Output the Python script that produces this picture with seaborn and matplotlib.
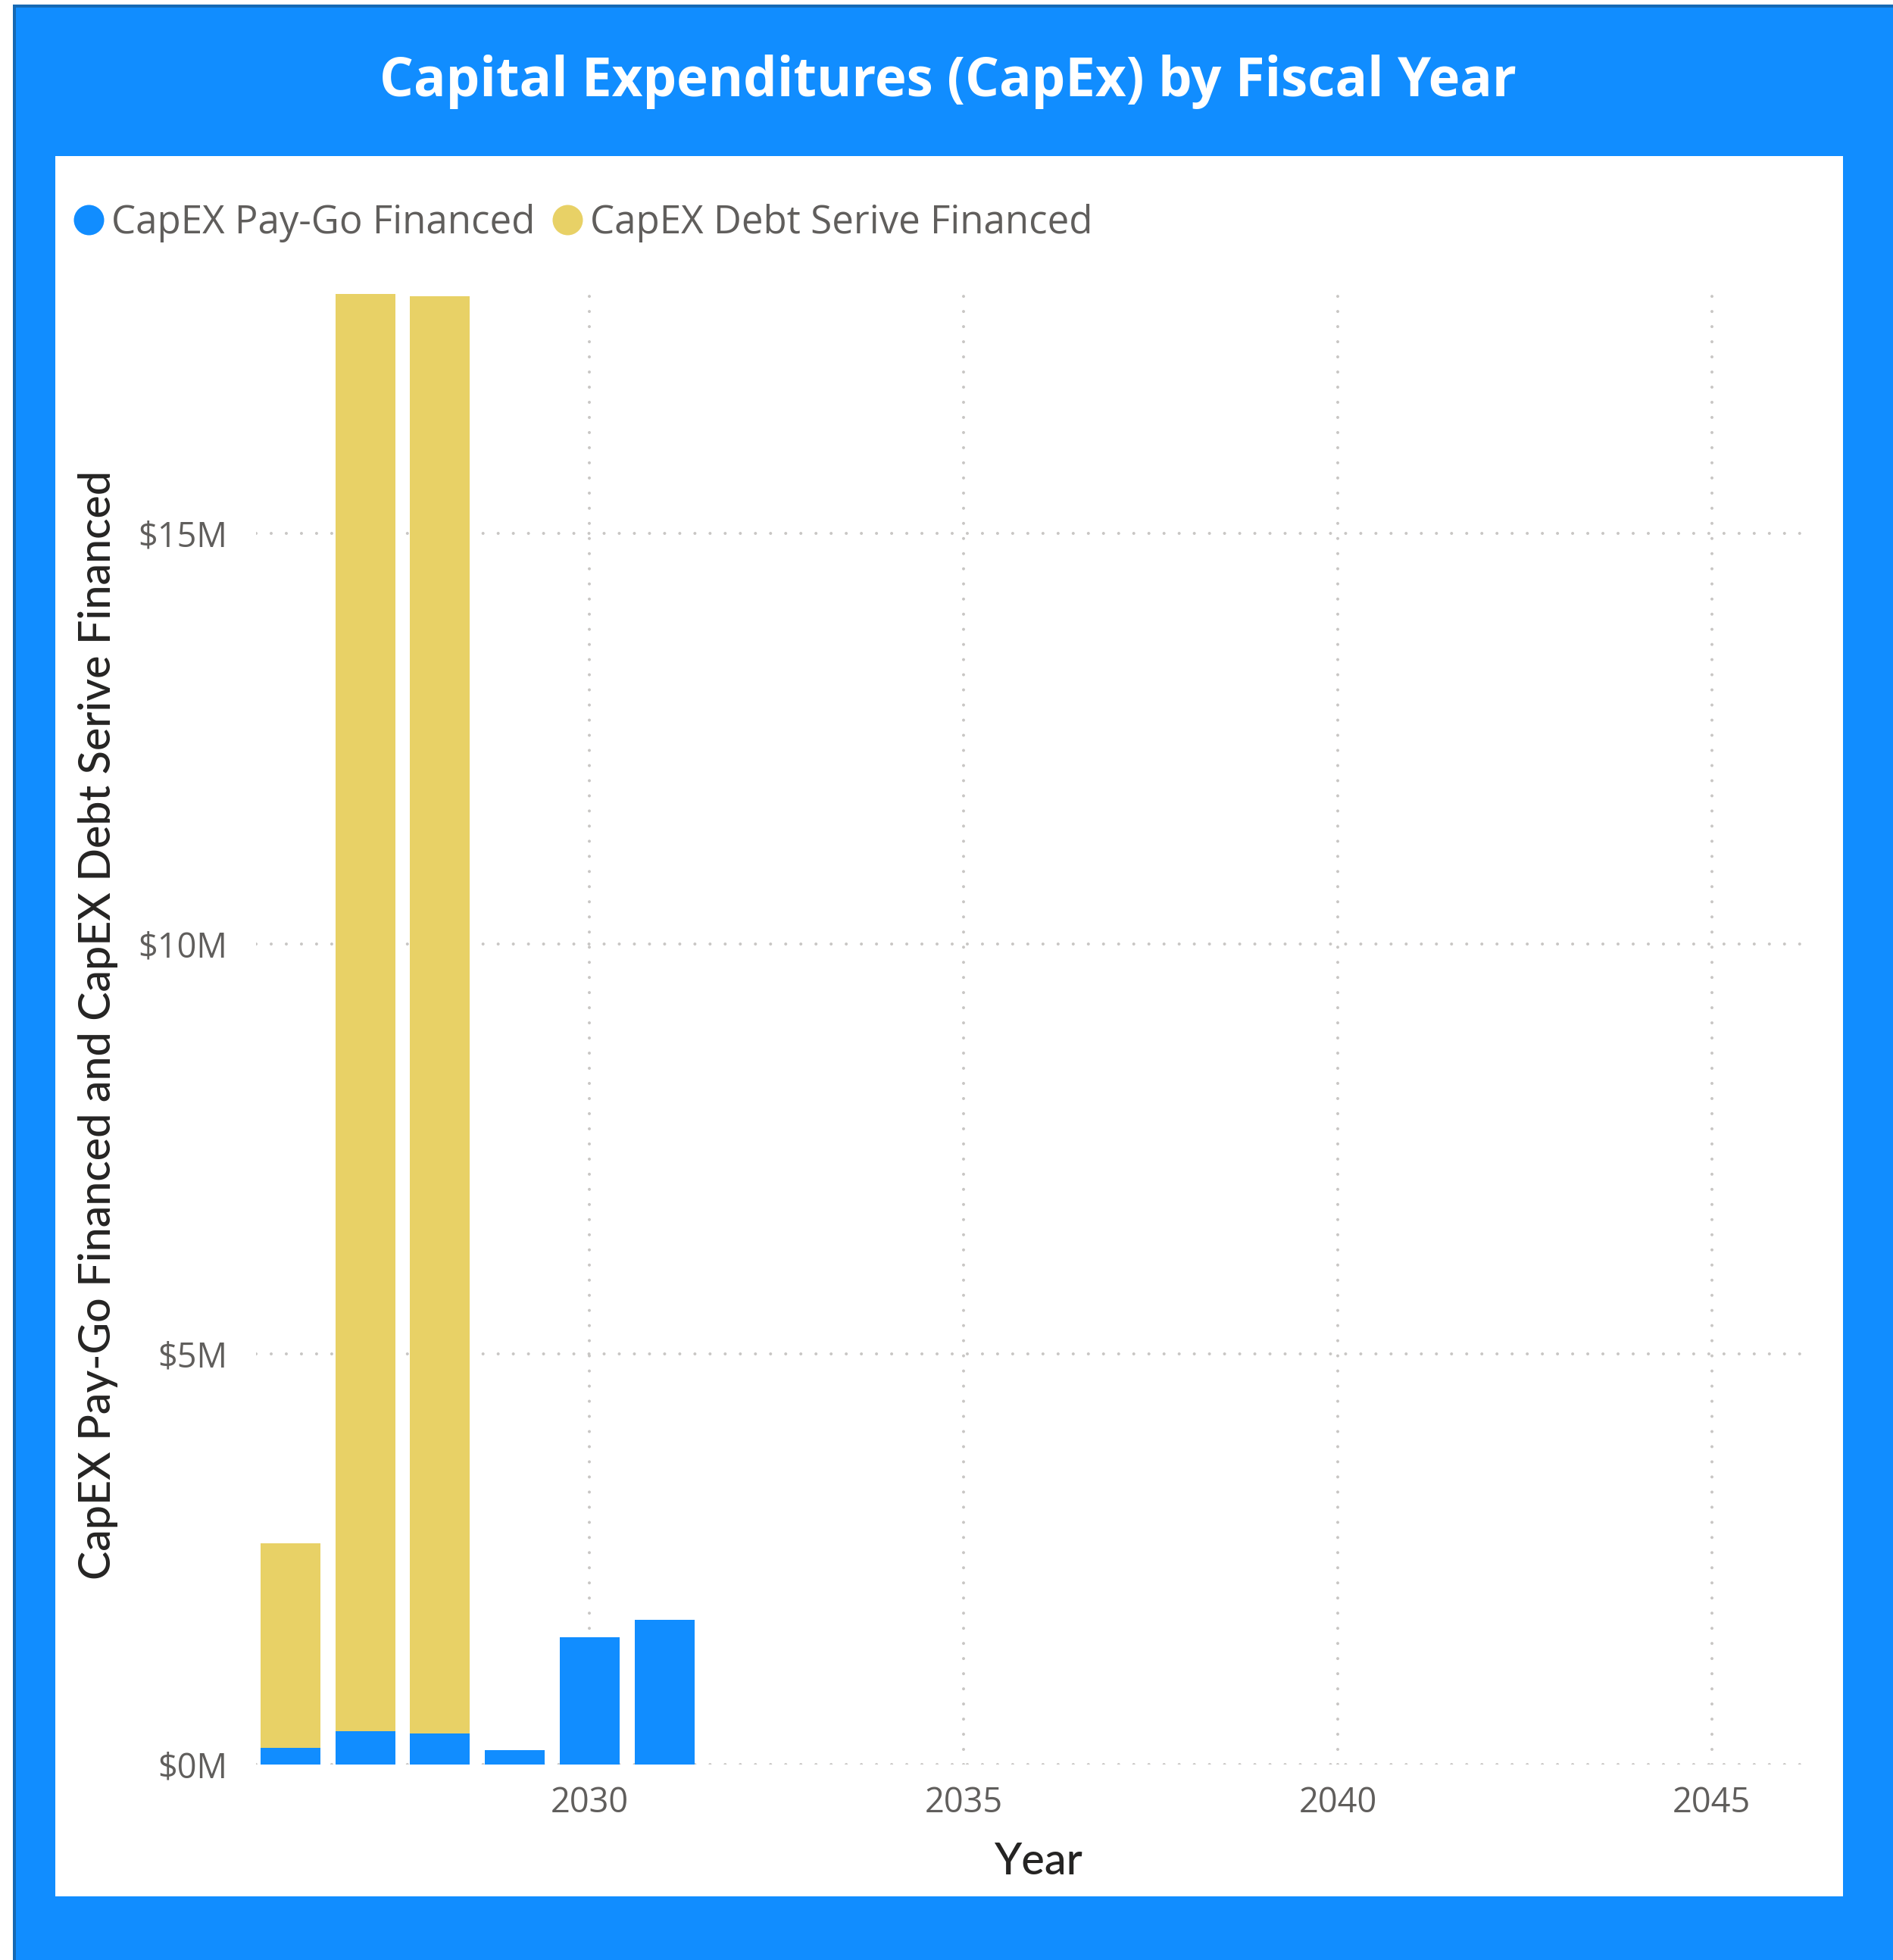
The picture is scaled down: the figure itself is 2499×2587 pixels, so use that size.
import matplotlib
matplotlib.use("Agg")
import matplotlib.pyplot as plt
from matplotlib.patches import Rectangle
from matplotlib.lines import Line2D
from matplotlib.ticker import FuncFormatter, FixedLocator
import pandas as pd
import seaborn as sns

# CapEx by fiscal year, in US dollars
years = [2026, 2027, 2028, 2029, 2030, 2031]
paygo_financed = [200_000, 410_000, 380_000, 180_000, 1_550_000, 1_760_000]
debt_service_financed = [2_500_000, 17_510_000, 17_510_000, 0, 0, 0]

series_labels = ["CapEX Pay-Go Financed", "CapEX Debt Serive Financed"]
y_ticks = [0, 5_000_000, 10_000_000, 15_000_000]
x_ticks = [2030, 2035, 2040, 2045]
x_range = (2025.54, 2046.29)

title = "Capital Expenditures (CapEx) by Fiscal Year"
x_title = "Year"
y_title = "CapEX Pay-Go Financed and CapEX Debt Serive Financed"

BLUE = "#118DFF"
GOLD = "#E8D166"
FRAME_EDGE = "#1669B3"
TICK_GREY = "#605E5C"
TITLE_DARK = "#252423"
GRID_GREY = "#C8C6C4"

sns.set_theme(style="white")
plt.rcParams["font.family"] = ["Open Sans", "DejaVu Sans"]
plt.rcParams["lines.dash_capstyle"] = "round"

df = pd.DataFrame({"Year": years, "PayGo": paygo_financed, "Debt": debt_service_financed})
df["Total"] = df["PayGo"] + df["Debt"]

W, H = 2499, 2587
fig = plt.figure(figsize=(W / 100, H / 100), dpi=100)
fig.patch.set_facecolor("white")


def px_rect(x0, y0, x1, y1, color, z):
    """Rectangle given in pixel coordinates measured from the top-left corner."""
    fig.add_artist(Rectangle((x0 / W, 1 - y1 / H), (x1 - x0) / W, (y1 - y0) / H,
                             transform=fig.transFigure, facecolor=color,
                             edgecolor="none", zorder=z))


# Blue card with a darker edge, and the white plotting panel on it
px_rect(17, 6, W, H, FRAME_EDGE, -3)
px_rect(21, 10, W, H, BLUE, -2)
px_rect(73, 206, 2433, 2503, "white", -1)

fig.text(0.5006, 1 - 127 / H, title, ha="center", va="baseline",
         color="white", fontsize=50.9, fontweight="bold")

ax = fig.add_axes([338 / W, 1 - 2329 / H, (2387 - 338) / W, (2329 - 388) / H])
ax.set_facecolor("none")

# Stacked columns: debt-service portion sits above the pay-go portion
sns.barplot(data=df[df["Debt"] > 0], x="Year", y="Total", native_scale=True,
            color=GOLD, saturation=1, width=0.8, errorbar=None, linewidth=0, ax=ax)
sns.barplot(data=df, x="Year", y="PayGo", native_scale=True,
            color=BLUE, saturation=1, width=0.8, errorbar=None, linewidth=0, ax=ax)

ax.set_xlim(*x_range)
ax.set_ylim(0, df["Total"].max())
ax.xaxis.set_major_locator(FixedLocator(x_ticks))
ax.yaxis.set_major_locator(FixedLocator(y_ticks))
ax.xaxis.set_major_formatter(FuncFormatter(lambda v, _: f"{v:.0f}"))
ax.yaxis.set_major_formatter(FuncFormatter(lambda v, _: f"${v / 1e6:.0f}M"))

ax.set_axisbelow(True)
ax.grid(True, axis="both", color=GRID_GREY, linewidth=2.9, linestyle=(0, (0.01, 4.95)))
for spine in ax.spines.values():
    spine.set_visible(False)

ax.tick_params(axis="both", length=0, labelsize=32.5, labelcolor=TICK_GREY)
ax.tick_params(axis="x", pad=20)
ax.tick_params(axis="y", pad=27)

axis_title_font = dict(family=["Lato", "DejaVu Sans"], weight="medium", color=TITLE_DARK)
ax.set_xlabel(x_title, fontsize=41.5, va="center", **axis_title_font)
ax.xaxis.set_label_coords(0.504, -0.066)
ax.set_ylabel(y_title, fontsize=41.2, va="center", **axis_title_font)
ax.yaxis.set_label_coords(-0.102, 0.503)

handles = [Line2D([], [], linestyle="none", marker="o", markersize=28.8,
                  markerfacecolor=c, markeredgewidth=0) for c in (BLUE, GOLD)]
fig.legend(handles, series_labels, loc="center left",
           bbox_to_anchor=(97 / W, 1 - 294 / H), bbox_transform=fig.transFigure,
           ncol=2, frameon=False, fontsize=36.75, labelcolor=TICK_GREY,
           handlelength=0.78, handletextpad=0.2, columnspacing=0.45,
           borderpad=0, borderaxespad=0)

fig.savefig("out.png", dpi=100, facecolor=fig.get_facecolor())
